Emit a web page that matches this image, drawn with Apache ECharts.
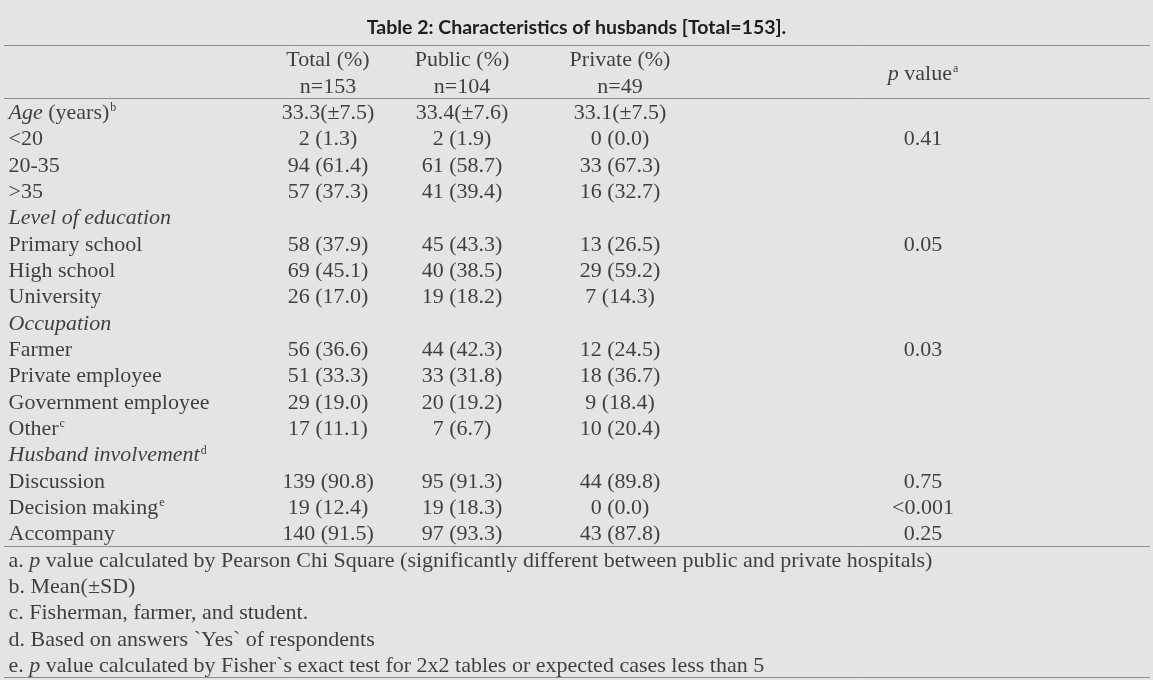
<!DOCTYPE html>
<html>
<head>
<meta charset="utf-8">
<script src="https://cdn.jsdelivr.net/npm/echarts@6/dist/echarts.min.js"></script>
<style>
html,body{margin:0;padding:0;background:#e4e4e4;}
#chart{width:1153px;height:680px;}
</style>
</head>
<body>
<div id="chart"></div>
<script>
// ---- data ----
var titleBold = 'Table 2:';
var titleRest = ' Characteristics of husbands [Total=153].';
var headerGroups = ['Total (%)', 'Public (%)', 'Private (%)'];
var headerN = ['n=153', 'n=104', 'n=49'];
var headerP = 'value';
var headerPSup = 'a';

var rowLabels = ['Age (years)', '<20', '20-35', '>35', 'Level of education', 'Primary school', 'High school', 'University',
  'Occupation', 'Farmer', 'Private employee', 'Government employee', 'Other', 'Husband involvement',
  'Discussion', 'Decision making', 'Accompany'];
var rowSup = ['b', '', '', '', '', '', '', '', '', '', '', '', 'c', 'd', '', 'e', ''];
var sectionRows = [0, 4, 8, 13];

var totalVals = ['33.3(±7.5)', '2 (1.3)', '94 (61.4)', '57 (37.3)', '', '58 (37.9)', '69 (45.1)', '26 (17.0)', '',
  '56 (36.6)', '51 (33.3)', '29 (19.0)', '17 (11.1)', '', '139 (90.8)', '19 (12.4)', '140 (91.5)'];
var publicVals = ['33.4(±7.6)', '2 (1.9)', '61 (58.7)', '41 (39.4)', '', '45 (43.3)', '40 (38.5)', '19 (18.2)', '',
  '44 (42.3)', '33 (31.8)', '20 (19.2)', '7 (6.7)', '', '95 (91.3)', '19 (18.3)', '97 (93.3)'];
var privateVals = ['33.1(±7.5)', '0 (0.0)', '33 (67.3)', '16 (32.7)', '', '13 (26.5)', '29 (59.2)', '7 (14.3)', '',
  '12 (24.5)', '18 (36.7)', '9 (18.4)', '10 (20.4)', '', '44 (89.8)', '0 (0.0)', '43 (87.8)'];
var pVals = ['', '0.41', '', '', '', '0.05', '', '', '', '0.03', '', '', '', '', '0.75', '<0.001', '0.25'];

var footnotes = [
  'a. p value calculated by Pearson Chi Square (significantly different between public and private hospitals)',
  'b. Mean(±SD)',
  'c. Fisherman, farmer, and student.',
  'd. Based on answers `Yes` of respondents',
  'e. p value calculated by Fisher`s exact test for 2x2 tables or expected cases less than 5'
];

// ---- layout ----
var colX = {label: 4, total: 324, pub: 458, priv: 616, p: 919};
var headerRows = 2;
var totalRows = headerRows + rowLabels.length + footnotes.length; // 24
var FONT = 'Liberation Serif';
var FS = 22;
var TXT = '#141414';

var rich = {
  n: {fontFamily: FONT, fontSize: FS, color: TXT},
  i: {fontFamily: FONT, fontSize: FS, color: TXT, fontStyle: 'italic'},
  s: {fontFamily: FONT, fontSize: 12, color: TXT, verticalAlign: 'top', padding: [0, 0, 0, 1]}
};

function esc(t) { return String(t).replace(/[{}|]/g, ''); }

function rowLabelRich(i) {
  var lab = rowLabels[i];
  var out;
  if (sectionRows.indexOf(i) >= 0) {
    var k = lab.indexOf(' (');
    if (k >= 0) out = '{i|' + esc(lab.slice(0, k)) + '}{n|' + esc(lab.slice(k)) + '}';
    else out = '{i|' + esc(lab) + '}';
  } else {
    out = '{n|' + esc(lab) + '}';
  }
  if (rowSup[i]) out += '{s|' + rowSup[i] + '}';
  return out;
}
function footRich(t) {
  var m = t.match(/^([a-e]\. )p( .*)$/);
  if (m) return '{n|' + esc(m[1]) + '}{i|p}{n|' + esc(m[2]) + '}';
  return '{n|' + esc(t) + '}';
}

function pt(x, y, text) { return {value: [x, y], name: text}; }

var labelData = [], totalData = [], pubData = [], privData = [], pData = [];
rowLabels.forEach(function (l, i) {
  var y = headerRows + i + 0.5;
  labelData.push(pt(colX.label, y, rowLabelRich(i)));
  if (totalVals[i]) totalData.push(pt(colX.total, y, '{n|' + totalVals[i] + '}'));
  if (publicVals[i]) pubData.push(pt(colX.pub, y, '{n|' + publicVals[i] + '}'));
  if (privateVals[i]) privData.push(pt(colX.priv, y, '{n|' + privateVals[i] + '}'));
  if (pVals[i]) pData.push(pt(colX.p, y, '{n|' + esc(pVals[i]) + '}'));
});
footnotes.forEach(function (f, j) {
  labelData.push(pt(colX.label, headerRows + rowLabels.length + j + 0.5, footRich(f)));
});
[totalData, pubData, privData].forEach(function (arr, c) {
  var xs = [colX.total, colX.pub, colX.priv][c];
  arr.unshift(pt(xs, 0.5, '{n|' + esc(headerGroups[c]) + '}'), pt(xs, 1.5, '{n|' + headerN[c] + '}'));
});
pData.unshift(pt(colX.p, 1, '{i|p}{n| ' + headerP + '}{s|' + headerPSup + '}'));

function textSeries(data, pos) {
  return {
    type: 'scatter',
    data: data,
    symbolSize: 1,
    itemStyle: {color: 'rgba(0,0,0,0)'},
    silent: true,
    label: {
      show: true,
      position: pos,
      distance: 0,
      offset: [0, 2],
      formatter: function (p) { return p.name; },
      rich: rich
    }
  };
}

var series = [
  textSeries(labelData, 'right'),
  textSeries(totalData, 'inside'),
  textSeries(pubData, 'inside'),
  textSeries(privData, 'inside'),
  textSeries(pData, 'inside')
];
series[0].markLine = {
  silent: true,
  symbol: ['none', 'none'],
  label: {show: false},
  lineStyle: {color: '#8e8e8e', width: 1, type: 'solid'},
  data: [{yAxis: 0}, {yAxis: headerRows}, {yAxis: headerRows + rowLabels.length}, {yAxis: totalRows}]
};

var chart = echarts.init(document.getElementById('chart'), null, {renderer: 'canvas'});
chart.setOption({
  backgroundColor: '#e4e4e4',
  animation: false,
  title: {
    left: 'center',
    top: 13,
    text: '{b|' + titleBold + '}{r|' + titleRest + '}',
    textStyle: {
      rich: {
        b: {fontFamily: 'Lato', fontSize: 19.5, fontWeight: 'bold', color: '#1e1e1e'},
        r: {fontFamily: 'Lato', fontSize: 19.5, color: '#1e1e1e'}
      }
    }
  },
  grid: {left: 4, right: 3, top: 45.5, bottom: 2.5},
  xAxis: {type: 'value', min: 0, max: 1146, show: false},
  yAxis: {type: 'value', min: 0, max: totalRows, inverse: true, show: false},
  series: series
});
</script>
</body>
</html>
